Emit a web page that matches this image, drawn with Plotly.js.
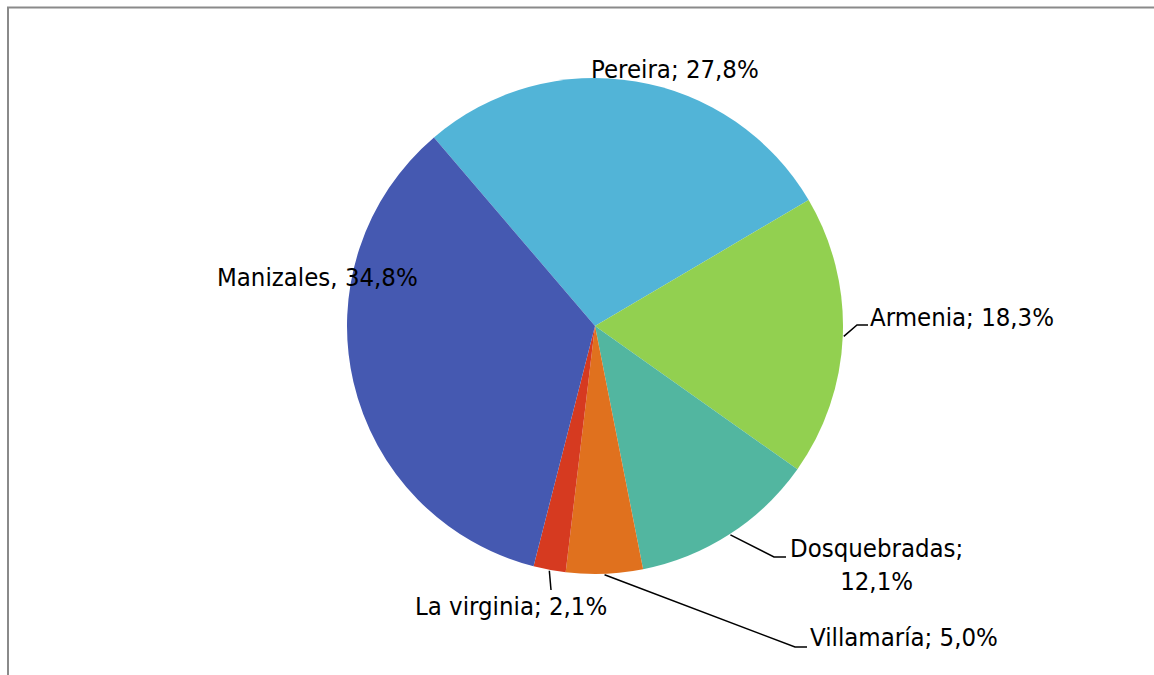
<!DOCTYPE html>
<html>
<head>
<meta charset="utf-8">
<script src="https://cdn.plot.ly/plotly-3.0.1.min.js"></script>
<style>html,body{margin:0;padding:0;background:#fff;}#chart{width:1154px;height:675px;}</style>
</head>
<body>
<div id="chart"></div>
<script>
// ---- data ----
const categories = ['Pereira', 'Armenia', 'Dosquebradas', 'Villamaría', 'La virginia', 'Manizales'];
const shares = [27.8, 18.3, 12.1, 5.0, 2.1, 34.8];
const shareLabels = ['27,8%', '18,3%', '12,1%', '5,0%', '2,1%', '34,8%'];
const separators = ['; ', '; ', ';<br>', '; ', '; ', ', '];
const sliceColors = ['#52B4D7', '#92D050', '#52B6A0', '#E0711E', '#D63A20', '#4559B1'];

// ---- layout constants ----
const W = 1154, H = 675;
const domX = [347 / W, 843 / W];
const domY = [1 - 574 / H, 1 - 78 / H];
const rotation = -40.5;
const labelFont = {family: 'DejaVu Sans Condensed, DejaVu Sans, sans-serif', size: 25.5, color: '#000'};

// label placement (pixels): [x, y, xanchor, hasLeader, elbowX, elbowY, endX]
const labelPlace = [
  [675, 69, 'center', false],
  [868, 317, 'left', true, 857, 325, 868],
  [876, 564, 'center', true, 774, 557, 786],
  [808, 637, 'left', true, 795, 647, 807],
  [511, 606, 'center', true, 551, 590, 551],
  [317, 277, 'center', false]
];

const px = x => x / W;
const py = y => 1 - y / H;

// pie geometry from domain
const cx = (domX[0] + domX[1]) / 2 * W;
const cy = (1 - (domY[0] + domY[1]) / 2) * H;
const R = Math.min((domX[1] - domX[0]) * W, (domY[1] - domY[0]) * H) / 2;
const total = shares.reduce((a, b) => a + b, 0);

const annotations = [];
const shapes = [
  {type: 'line', xref: 'paper', yref: 'paper', x0: px(7), x1: 1, y0: py(7.5), y1: py(7.5), line: {color: '#8a8a8a', width: 2}},
  {type: 'line', xref: 'paper', yref: 'paper', x0: px(8), x1: px(8), y0: py(7), y1: 0, line: {color: '#8a8a8a', width: 2}}
];

let cum = 0;
categories.forEach((c, i) => {
  const mid = (rotation + 360 * (cum + shares[i] / 2) / total) * Math.PI / 180;
  cum += shares[i];
  const p = labelPlace[i];
  annotations.push({
    xref: 'paper', yref: 'paper', x: px(p[0]), y: py(p[1]),
    xanchor: p[2], yanchor: 'middle', align: 'center',
    text: c + separators[i] + shareLabels[i], showarrow: false, font: labelFont
  });
  if (p[3]) {
    const ax = cx + (R + 1) * Math.sin(mid);
    const ay = cy - (R + 1) * Math.cos(mid);
    shapes.push({
      type: 'path', xref: 'paper', yref: 'paper',
      path: `M ${px(ax)},${py(ay)} L ${px(p[4])},${py(p[5])} L ${px(p[6])},${py(p[5])}`,
      line: {color: '#000', width: 1.5}
    });
  }
});

const trace = {
  type: 'pie',
  labels: categories,
  values: shares,
  sort: false,
  direction: 'clockwise',
  rotation: rotation,
  textinfo: 'none',
  hoverinfo: 'label+percent',
  marker: {colors: sliceColors, line: {width: 0}},
  domain: {x: domX, y: domY},
  showlegend: false
};

Plotly.newPlot('chart', [trace], {
  width: W, height: H,
  margin: {l: 0, r: 0, t: 0, b: 0},
  paper_bgcolor: '#fff',
  showlegend: false,
  annotations: annotations,
  shapes: shapes
}, {displayModeBar: false, staticPlot: true});
</script>
</body>
</html>
